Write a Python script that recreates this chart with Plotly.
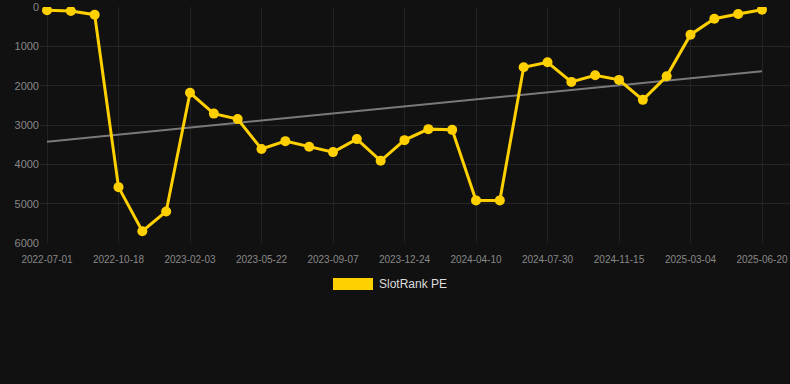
import numpy as np
import plotly.graph_objects as go

dates = [
    "2022-07-01", "2022-08-06", "2022-09-11", "2022-10-18", "2022-11-23", "2022-12-29",
    "2023-02-03", "2023-03-11", "2023-04-16", "2023-05-22", "2023-06-27", "2023-08-02",
    "2023-09-07", "2023-10-13", "2023-11-18", "2023-12-24", "2024-01-29", "2024-03-05",
    "2024-04-10", "2024-05-17", "2024-06-23", "2024-07-30", "2024-09-04", "2024-10-10",
    "2024-11-15", "2024-12-21", "2025-01-27", "2025-03-04", "2025-04-09", "2025-05-15",
    "2025-06-20",
]
rank = [
    80, 100, 195, 4580, 5700, 5200,
    2180, 2710, 2850, 3610, 3410, 3554,
    3689, 3359, 3910, 3385, 3105, 3123,
    4917, 4917, 1531, 1405, 1904, 1735,
    1853, 2361, 1760, 703, 297, 178,
    68,
]
tick_labels = dates[::3]
y_ticks = [0, 1000, 2000, 3000, 4000, 5000, 6000]
series_name = "SlotRank PE"

idx = np.arange(len(rank))
slope, intercept = np.polyfit(idx, rank, 1)
trend = [intercept, intercept + slope * idx[-1]]

fig = go.Figure()
fig.add_trace(go.Scatter(
    x=[dates[0], dates[-1]], y=trend, mode="lines",
    line=dict(color="#7a7a7a", width=2), hoverinfo="skip", showlegend=False,
))
fig.add_trace(go.Scatter(
    x=dates, y=rank, mode="lines+markers", name=series_name,
    line=dict(color="#FFD000", width=3),
    marker=dict(color="#FFD000", size=10),
    showlegend=False,
))

fig.update_layout(
    width=790, height=384,
    paper_bgcolor="#111111", plot_bgcolor="#111111",
    margin=dict(l=40, r=0, t=7, b=141),
    font=dict(family="Liberation Sans, Arial, sans-serif", color="#888888"),
    xaxis=dict(
        type="category", categoryorder="array", categoryarray=dates,
        range=[-0.294, 31.175],
        tickmode="array", tickvals=tick_labels, ticktext=tick_labels,
        tickfont=dict(size=10, color="#888888"),
        showgrid=True, gridcolor="#222222", gridwidth=1,
        zeroline=False, showline=False, ticks="", ticklabelstandoff=9,
    ),
    yaxis=dict(
        range=[6000, 0], tickvals=y_ticks,
        tickfont=dict(size=11, color="#888888"),
        showgrid=True, gridcolor="#262626", gridwidth=1,
        zeroline=False, showline=False, ticks="",
    ),
    shapes=[dict(
        type="rect", xref="paper", yref="paper",
        x0=(333 - 40) / 750, x1=(373 - 40) / 750,
        y0=-(278 - 243) / 236, y1=-(290 - 243) / 236,
        fillcolor="#FFD000", line=dict(width=0),
    )],
    annotations=[dict(
        text=series_name, xref="paper", yref="paper",
        x=(377 - 40) / 750, y=-(284 - 243) / 236,
        xanchor="left", yanchor="middle", showarrow=False,
        font=dict(size=12, color="#dddddd"),
    )],
)

fig.write_html(
    "out.html",
    config={"displayModeBar": False},
    post_script="document.body.style.margin='0';document.body.style.background='#111111';",
)
